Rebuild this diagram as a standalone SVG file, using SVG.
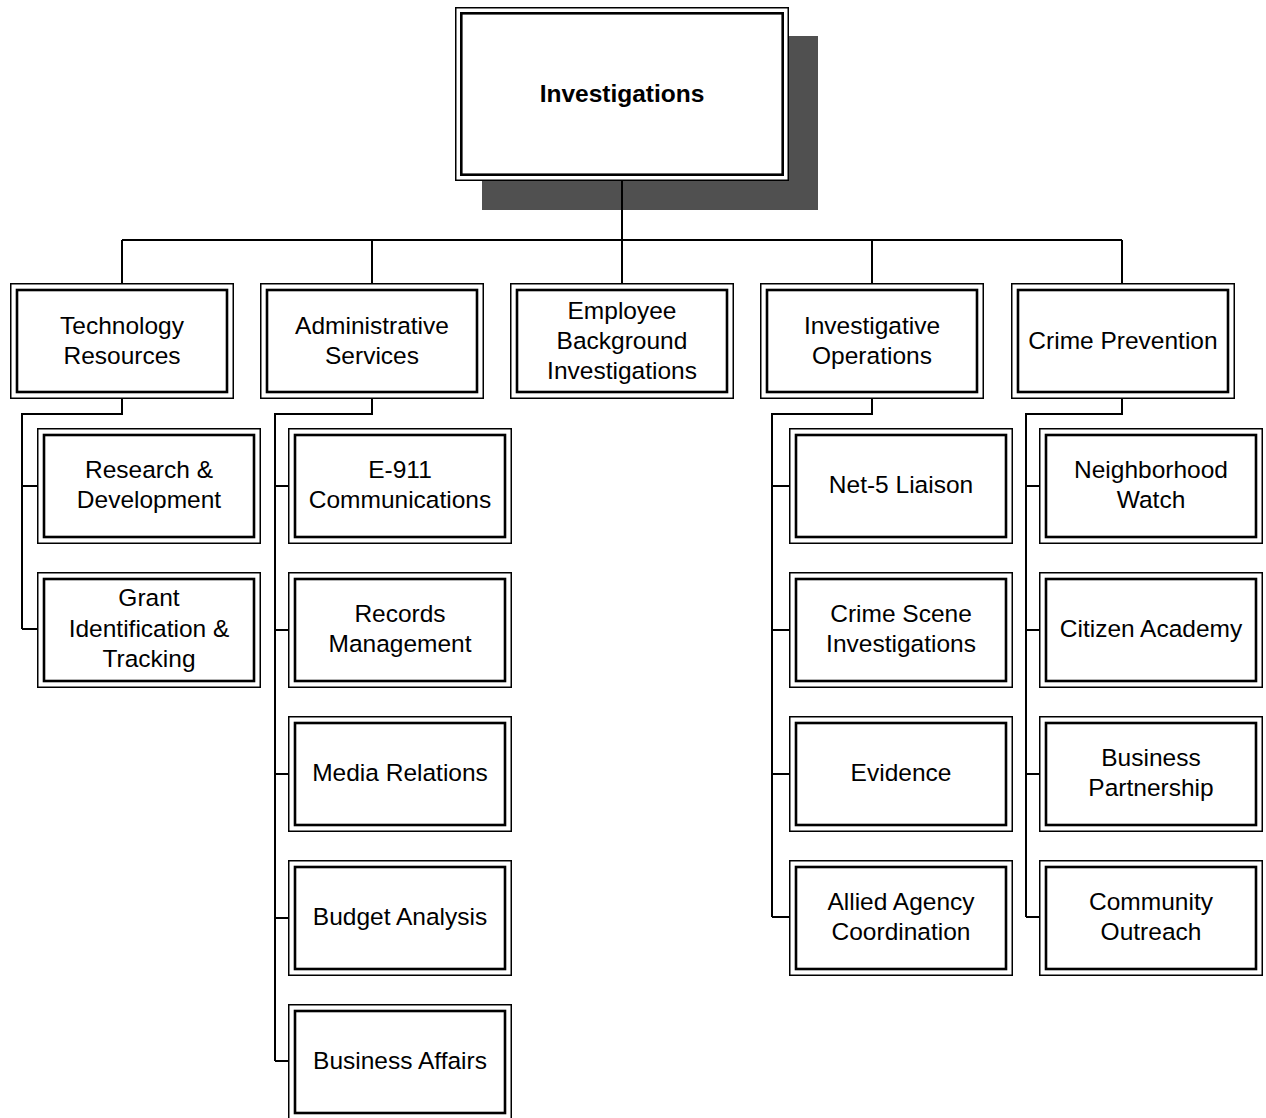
<svg xmlns="http://www.w3.org/2000/svg" width="1266" height="1118" viewBox="0 0 1266 1118">
<style>
.o{fill:#fff;stroke:#000;stroke-width:1.5}
.i{fill:none;stroke:#000;stroke-width:2.6}
.t{font-family:"Liberation Sans",Arial,sans-serif;font-size:24.5px;fill:#000;text-anchor:middle}
.b{font-weight:bold}
.c{fill:none;stroke:#000;stroke-width:2}
</style>
<defs>
<g id="box">
<rect class="o" x="0.75" y="0.75" width="222.5" height="114.5"/>
<rect class="i" x="7" y="7" width="210" height="102"/>
</g>
</defs>
<rect width="1266" height="1118" fill="#fff"/>
<g id="investigations">
<rect x="482" y="36" width="336" height="174" fill="#505050"/>
<rect class="o" x="455.75" y="7.75" width="332.5" height="172.5"/>
<rect class="i" x="461.3" y="13.3" width="321.4" height="161.4"/>
<text class="t b" x="622" y="102">Investigations</text>
</g>
<g id="connectors">
<path class="c" d="M622 181V283M122 240H1122M122 240V283M372 240V283M872 240V283M1122 240V283"/>
<path class="c" d="M122 399V414H22V629M22 486H37M22 629H37"/>
<path class="c" d="M372 399V414H275V1061M275 486H288M275 630H288M275 774H288M275 918H288M275 1061H288"/>
<path class="c" d="M872 399V414H772V917M772 486H789M772 630H789M772 774H789M772 917H789"/>
<path class="c" d="M1122 399V414H1026V917M1026 486H1039M1026 630H1039M1026 774H1039M1026 917H1039"/>
</g>
<g id="technology-resources" transform="translate(10,283)">
<use href="#box"/>
<text class="t" x="112" y="51">Technology</text>
<text class="t" x="112" y="81">Resources</text>
</g>
<g id="administrative-services" transform="translate(260,283)">
<use href="#box"/>
<text class="t" x="112" y="51">Administrative</text>
<text class="t" x="112" y="81">Services</text>
</g>
<g id="employee-background" transform="translate(510,283)">
<use href="#box"/>
<text class="t" x="112" y="36">Employee</text>
<text class="t" x="112" y="66">Background</text>
<text class="t" x="112" y="96">Investigations</text>
</g>
<g id="investigative-operations" transform="translate(760,283)">
<use href="#box"/>
<text class="t" x="112" y="51">Investigative</text>
<text class="t" x="112" y="81">Operations</text>
</g>
<g id="crime-prevention" transform="translate(1011,283)">
<use href="#box"/>
<text class="t" x="112" y="66">Crime Prevention</text>
</g>
<g id="research-development" transform="translate(37,428)">
<use href="#box"/>
<text class="t" x="112" y="50">Research &amp;</text>
<text class="t" x="112" y="80">Development</text>
</g>
<g id="grant-identification" transform="translate(37,572)">
<use href="#box"/>
<text class="t" x="112" y="34">Grant</text>
<text class="t" x="112" y="65">Identification &amp;</text>
<text class="t" x="112" y="95">Tracking</text>
</g>
<g id="e911" transform="translate(288,428)">
<use href="#box"/>
<text class="t" x="112" y="50">E-911</text>
<text class="t" x="112" y="80">Communications</text>
</g>
<g id="records-management" transform="translate(288,572)">
<use href="#box"/>
<text class="t" x="112" y="50">Records</text>
<text class="t" x="112" y="80">Management</text>
</g>
<g id="media-relations" transform="translate(288,716)">
<use href="#box"/>
<text class="t" x="112" y="65">Media Relations</text>
</g>
<g id="budget-analysis" transform="translate(288,860)">
<use href="#box"/>
<text class="t" x="112" y="65">Budget Analysis</text>
</g>
<g id="business-affairs" transform="translate(288,1004)">
<use href="#box"/>
<text class="t" x="112" y="65">Business Affairs</text>
</g>
<g id="net5-liaison" transform="translate(789,428)">
<use href="#box"/>
<text class="t" x="112" y="65">Net-5 Liaison</text>
</g>
<g id="crime-scene" transform="translate(789,572)">
<use href="#box"/>
<text class="t" x="112" y="50">Crime Scene</text>
<text class="t" x="112" y="80">Investigations</text>
</g>
<g id="evidence" transform="translate(789,716)">
<use href="#box"/>
<text class="t" x="112" y="65">Evidence</text>
</g>
<g id="allied-agency" transform="translate(789,860)">
<use href="#box"/>
<text class="t" x="112" y="50">Allied Agency</text>
<text class="t" x="112" y="80">Coordination</text>
</g>
<g id="neighborhood-watch" transform="translate(1039,428)">
<use href="#box"/>
<text class="t" x="112" y="50">Neighborhood</text>
<text class="t" x="112" y="80">Watch</text>
</g>
<g id="citizen-academy" transform="translate(1039,572)">
<use href="#box"/>
<text class="t" x="112" y="65">Citizen Academy</text>
</g>
<g id="business-partnership" transform="translate(1039,716)">
<use href="#box"/>
<text class="t" x="112" y="50">Business</text>
<text class="t" x="112" y="80">Partnership</text>
</g>
<g id="community-outreach" transform="translate(1039,860)">
<use href="#box"/>
<text class="t" x="112" y="50">Community</text>
<text class="t" x="112" y="80">Outreach</text>
</g>
</svg>
